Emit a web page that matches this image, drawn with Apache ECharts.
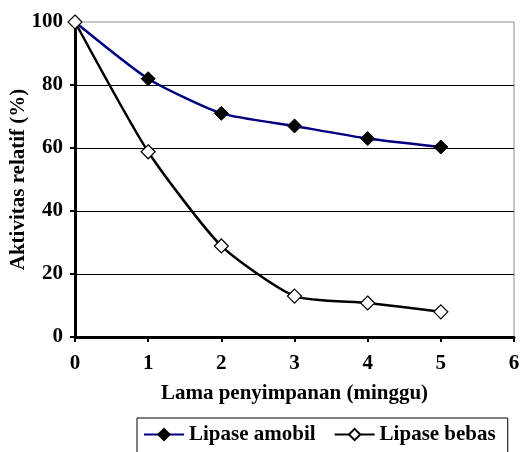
<!DOCTYPE html>
<html><head><meta charset="utf-8">
<script src="https://cdn.jsdelivr.net/npm/echarts@6/dist/echarts.min.js"></script>
<style>html,body{margin:0;padding:0;background:#fff}#c{width:520px;height:452px}</style>
</head><body><div id="c"></div>
<script>
var weeks = [0, 1, 2, 3, 4, 5];
var amobil = [100, 82, 71, 67, 63, 60.3];
var bebas = [100, 58.8, 28.9, 13, 10.8, 8];
var seriesNames = ['Lipase amobil', 'Lipase bebas'];
var xName = 'Lama penyimpanan (minggu)';
var yName = 'Aktivitas relatif (%)';

var font = 'Liberation Serif';
var chart = echarts.init(document.getElementById('c'), null, {renderer: 'canvas'});
function pairs(v){ return weeks.map(function(w,i){ return [w, v[i]]; }); }
chart.setOption({
  animation: false,
  backgroundColor: '#fff',
  grid: {left: 75, right: 6, top: 22, bottom: 115, containLabel: false, outerBoundsMode: 'none',
         show: true, borderColor: '#8c8c8c', borderWidth: 1, backgroundColor: 'transparent'},
  legend: {
    left: 137, top: 418,
    padding: [6, 12, 8, 6],
    itemWidth: 40, itemHeight: 14, itemGap: 18,
    borderColor: '#000', borderWidth: 1,
    textStyle: {fontFamily: font, fontWeight: 'bold', fontSize: 21, color: '#000'},
    data: seriesNames
  },
  xAxis: {
    type: 'value', min: 0, max: 6, interval: 1,
    name: xName, nameLocation: 'middle', nameGap: 46, nameMoveOverlap: false,
    nameTextStyle: {fontFamily: font, fontWeight: 'bold', fontSize: 21, color: '#000'},
    axisLine: {lineStyle: {color: '#000', width: 3}},
    axisTick: {show: true, length: 5, lineStyle: {color: '#000', width: 2}},
    axisLabel: {fontFamily: font, fontWeight: 'bold', fontSize: 21, color: '#000', margin: 16},
    splitLine: {show: false}
  },
  yAxis: {
    type: 'value', min: 0, max: 100, interval: 20,
    name: yName, nameLocation: 'middle', nameGap: 46, nameRotate: 90, nameMoveOverlap: false,
    nameTextStyle: {fontFamily: font, fontWeight: 'bold', fontSize: 21, color: '#000'},
    axisLine: {show: true, lineStyle: {color: '#000', width: 3}},
    axisTick: {show: true, length: 5, lineStyle: {color: '#000', width: 2}},
    axisLabel: {fontFamily: font, fontWeight: 'bold', fontSize: 21, color: '#000', margin: 12},
    splitLine: {show: true, showMaxLine: false, showMinLine: false, lineStyle: {color: '#000', width: 1}}
  },
  series: [
    {name: seriesNames[0], type: 'line', data: pairs(amobil), smooth: 0.2,
     symbol: 'diamond', symbolSize: 14,
     lineStyle: {color: '#000080', width: 2.5},
     itemStyle: {color: '#000', borderColor: '#000', borderWidth: 1}, z: 3},
    {name: seriesNames[1], type: 'line', data: pairs(bebas), smooth: 0.2,
     symbol: 'diamond', symbolSize: 14,
     lineStyle: {color: '#000', width: 2.5},
     itemStyle: {color: '#fff', borderColor: '#000', borderWidth: 1.2}, z: 4}
  ]
});
</script></body></html>
